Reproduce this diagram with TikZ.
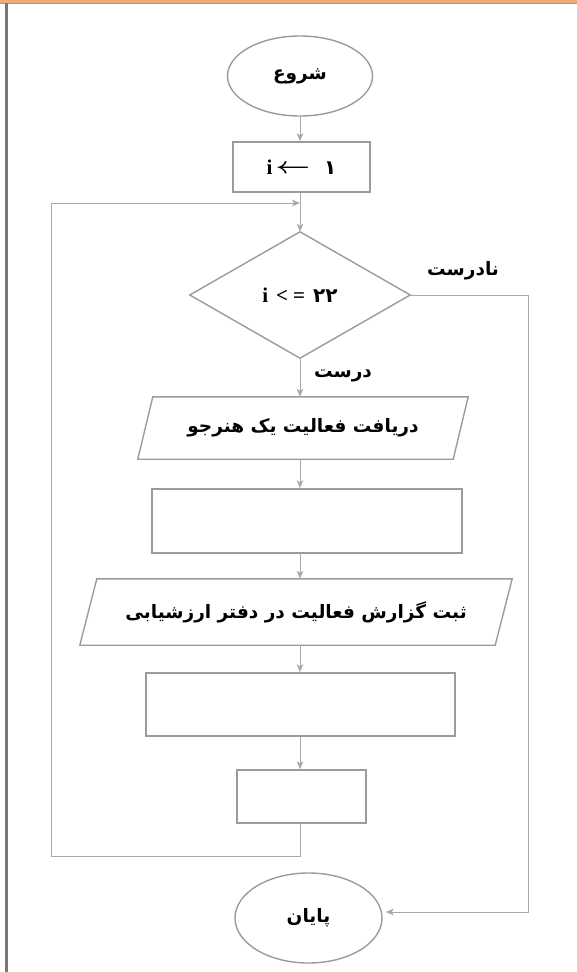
\documentclass[tikz,border=0pt]{standalone}
\usepackage{fontspec}
\usepackage{graphicx}
\usetikzlibrary{arrows.meta,shapes.geometric}
\TeXXeTstate=1
\newfontfamily\fa[Script=Arabic]{DejaVu Sans}
\newfontfamily\lat{Liberation Serif}
\definecolor{shapegray}{HTML}{9B9B9D}
\definecolor{conngray}{HTML}{A9A9AB}
\definecolor{peach}{HTML}{EFAA7E}
\definecolor{framegray}{HTML}{77777A}
\newcommand{\fatext}[1]{{\fa\bfseries\beginR #1\endR}}
\newcommand{\fadigit}[1]{{\fa\bfseries\fontsize{20}{22}\selectfont #1}}
\tikzset{
  box/.style={draw=shapegray,line width=1.4pt,rectangle,inner sep=0pt},
  ghost/.style={draw=none,rectangle,inner sep=0pt},
  oval/.style={draw=shapegray,line width=1.4pt,ellipse,inner sep=0pt},
  outline/.style={draw=shapegray,line width=1.4pt,line join=miter},
  conn/.style={draw=conngray,line width=1pt},
  arr/.style={conn,-{Stealth[length=8pt,width=6.5pt,inset=2pt]}},
  lbl/.style={font=\fontsize{18.5}{21}\selectfont,inner sep=0pt},
  mathlbl/.style={font=\lat\bfseries\boldmath\fontsize{21}{24}\selectfont,inner sep=0pt},
}
\begin{document}
\begin{tikzpicture}[x=1pt,y=-1pt]
\useasboundingbox (0,0) rectangle (577,972);
% frame
\fill[peach] (0,0) rectangle (577,2.6);
\draw[shapegray,line width=1.4pt] (0,3.6) -- (577,3.6);
\draw[framegray,line width=2.4pt] (6.4,3) -- (6.4,972);
% nodes
\node[oval,minimum width=145pt,minimum height=80pt,lbl] (start) at (300,76) {\fatext{شروع}};
\node[box,minimum width=137pt,minimum height=50pt,mathlbl] (init) at (301.5,167)
  {i\kern3pt\raisebox{0.5pt}{\scalebox{1.45}[1.1]{$\leftarrow$}}\kern14pt\fadigit{۱}};
\node[ghost,minimum width=220pt,minimum height=126pt,mathlbl] (cond) at (300,295)
  {i\kern8pt<\kern5pt=\kern8pt\fadigit{۲۲}};
\draw[outline] (cond.north) -- (cond.east) -- (cond.south) -- (cond.west) -- cycle;
\node[ghost,minimum width=330pt,minimum height=62pt,lbl] (p1) at (303,428) {\raisebox{-2pt}{\fatext{دریافت فعالیت یک هنرجو}}};
\draw[outline] ([xshift=15pt]p1.north west) -- (p1.north east) -- ([xshift=-15pt]p1.south east) -- (p1.south west) -- cycle;
\node[box,minimum width=310pt,minimum height=64pt] (r2) at (307,521) {};
\node[ghost,minimum width=432pt,minimum height=66pt,lbl] (p2) at (296,612) {\fatext{ثبت گزارش فعالیت در دفتر ارزشیابی}};
\draw[outline] ([xshift=17pt]p2.north west) -- (p2.north east) -- ([xshift=-17pt]p2.south east) -- (p2.south west) -- cycle;
\node[box,minimum width=309pt,minimum height=63pt] (r3) at (300.5,704.5) {};
\node[box,minimum width=129pt,minimum height=53pt] (r4) at (301.5,796.5) {};
\node[oval,minimum width=147pt,minimum height=90pt,lbl] (end) at (308.5,918) {\fatext{پایان}};
% labels
\node[lbl] (yes) at (343,376) {\fatext{درست}};
\node[lbl] (no) at (463,271) {\fatext{نادرست}};
% connectors
\coordinate (merge) at (300,203);
\coordinate (loopBL) at (51,856);
\coordinate (fr) at (528,912);
\draw[arr] (start.south) -- (start.south |- init.north);
\draw[arr] (init.south -| start.south) -- (cond.north);
\draw[arr] (cond.south) -- (cond.south |- p1.north);
\draw[arr] (p1.south -| cond.south) -- (cond.south |- r2.north);
\draw[arr] (r2.south -| cond.south) -- (cond.south |- p2.north);
\draw[arr] (p2.south -| cond.south) -- (cond.south |- r3.north);
\draw[arr] (r3.south -| cond.south) -- (cond.south |- r4.north);
\draw[arr] (r4.south -| cond.south) |- (loopBL) |- (merge);
\draw[arr] (cond.east) -| (fr) -- ([xshift=3pt]end.east |- fr);
\end{tikzpicture}
\end{document}
